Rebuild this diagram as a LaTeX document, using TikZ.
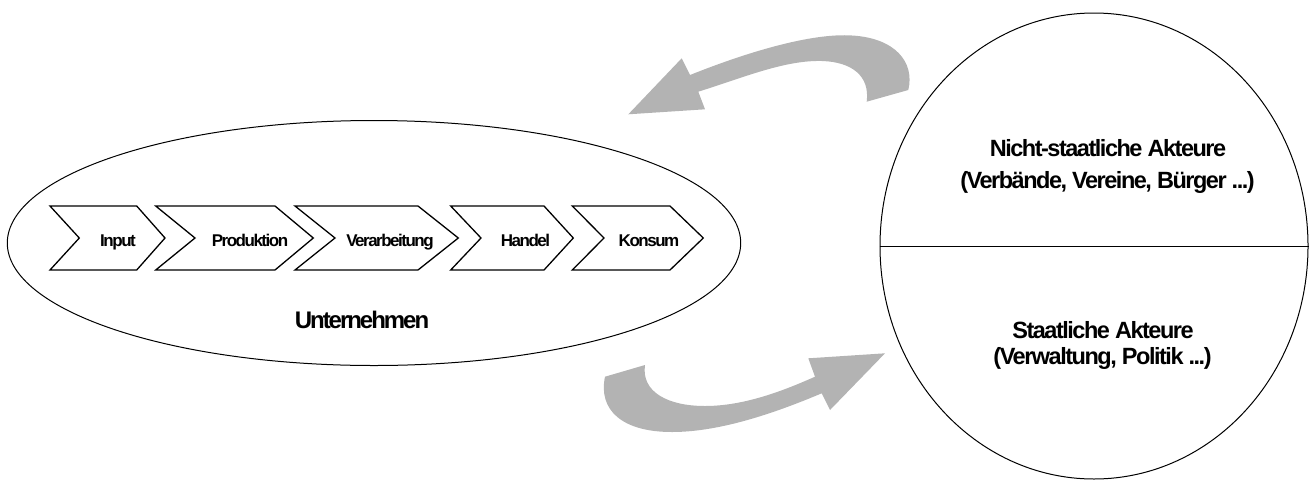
\documentclass[tikz,border=0pt]{standalone}
\usepackage{fontspec}
% tightly tracked bold sans faces for the labels
\newfontfamily\stagefont{Liberation Sans}[LetterSpace=-8.8]
\newfontfamily\actorfont{Liberation Sans}[LetterSpace=-6.3]
\newfontfamily\firmfont{Liberation Sans}[LetterSpace=-8.5]
\usetikzlibrary{shapes.geometric}
\definecolor{arrowgray}{RGB}{179,179,179}
\begin{document}
\begin{tikzpicture}[x=1pt,y=-1pt,
  outline/.style={draw=black,line width=1pt},
  stage/.style={draw=black,line width=1.3pt,fill=white,line join=miter},
  stagetext/.style={anchor=base,inner sep=0pt,font=\stagefont\bfseries\fontsize{17}{20}\selectfont},
  bigtext/.style={anchor=base,inner sep=0pt,font=\actorfont\bfseries\fontsize{23.5}{28}\selectfont},
  flow/.style={fill=arrowgray}]
\useasboundingbox (0,0) rectangle (1311,480);

% company ellipse
\node[ellipse,outline,minimum width=733.4pt,minimum height=245pt,inner sep=0pt] (firm) at (374,243) {};

% actors circle with divider
\node[ellipse,outline,minimum width=428pt,minimum height=466pt,inner sep=0pt] (actors) at (1094,246) {};
\draw[line width=1pt] (actors.west) -- (actors.east);

% value chain stages
\draw[stage] (50,206) -- (136.7,206) -- (165,238) -- (136.7,270) -- (50,270) -- (79.3,238) -- cycle;
\draw[stage] (155.7,206) -- (275,206) -- (313.3,238) -- (275,270) -- (155.7,270) -- (195,238) -- cycle;
\draw[stage] (295,206) -- (418,206) -- (458.3,238) -- (418,270) -- (295,270) -- (335,238) -- cycle;
\draw[stage] (450.7,206) -- (544,206) -- (573.3,238) -- (544,270) -- (450.7,270) -- (481,238) -- cycle;
\draw[stage] (572.3,206) -- (670,206) -- (703.3,238) -- (670,270) -- (572.3,270) -- (604,238) -- cycle;

\node[stagetext] (input) at (118,246) {Input};
\node[stagetext] (prod) at (250,246) {Produktion};
\node[stagetext] (proc) at (390,246) {Verarbeitung};
\node[stagetext] (trade) at (525.5,246) {Handel};
\node[stagetext] (cons) at (649,246) {Konsum};

\node[anchor=base,inner sep=0pt,font=\firmfont\bfseries\fontsize{24}{28}\selectfont] (firmlabel) at (362,328.3) {Unternehmen};

\node[bigtext] (ngo1) at (1108,156.7) {Nicht-staatliche Akteure};
\node[bigtext] (ngo2) at (1107.5,188.3) {(Verbände, Vereine, Bürger ...)};
\node[bigtext] (gov1) at (1103,338.3) {Staatliche Akteure};
\node[bigtext] (gov2) at (1102.5,364.3) {(Verwaltung, Politik ...)};

% curved block arrow towards the company
\fill[flow] (690,75)
  .. controls (755,49) and (815,33) .. (852,35.5)
  .. controls (895,38) and (915,62) .. (908.3,90)
  -- (866.7,101.7)
  .. controls (870,76) and (852,62) .. (822,61)
  .. controls (785,60) and (745,77) .. (698.3,91.7)
  -- (705,109.3) -- (628.3,114.3) -- (681.7,58.3) -- cycle;

% curved block arrow towards the actors
\fill[flow] (605,376.7) -- (645,365)
  .. controls (641,392) and (668,406) .. (705,406)
  .. controls (745,406) and (785,390) .. (815,376.7)
  -- (808.3,358.3) -- (885,353.3) -- (830,410) -- (821.7,393.3)
  .. controls (775,413) and (720,432) .. (672,432)
  .. controls (622,432) and (598,410) .. (605,376.7)
  -- cycle;
\end{tikzpicture}
\end{document}
